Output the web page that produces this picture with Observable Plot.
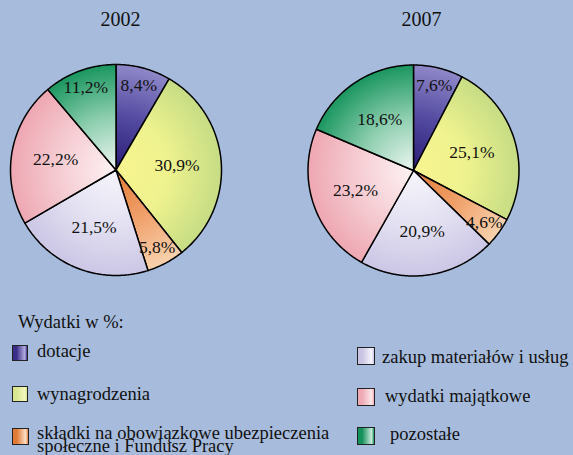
<!DOCTYPE html>
<html><head><meta charset="utf-8">
<script src="https://cdn.jsdelivr.net/npm/d3@7"></script>
<script src="https://cdn.jsdelivr.net/npm/@observablehq/plot@0.6"></script>
<style>
body{margin:0;background:#a7bcdc;width:573px;height:455px;overflow:hidden;position:relative;font-family:"Liberation Serif",serif;}
#chart{position:absolute;left:0;top:0}
.lg{position:absolute;font-size:18.5px;line-height:18px;color:#111;white-space:nowrap}
.sw{position:absolute;box-sizing:border-box;border:1px solid #222}
</style></head><body>
<div id="chart"></div>
<div id="legend"></div>
<script>
// ---- data ----
const categories = [
  "dotacje",
  "wynagrodzenia",
  "składki na obowiązkowe ubezpieczenia społeczne i Fundusz Pracy",
  "zakup materiałów i usług",
  "wydatki majątkowe",
  "pozostałe"
];
const legendLines = [
  ["dotacje"],
  ["wynagrodzenia"],
  ["składki na obowiązkowe ubezpieczenia", "społeczne i Fundusz Pracy"],
  ["zakup materiałów i usług"],
  ["wydatki majątkowe"],
  ["pozostałe"]
];
const years = ["2002", "2007"];
const values2002 = [8.4, 30.9, 5.8, 21.5, 22.2, 11.2];
const values2007 = [7.6, 25.1, 4.6, 20.9, 23.2, 18.6];
const legendTitle = "Wydatki w %:";

// ---- styles ----
const gradInner = ["#2a1c76", "#f8f590", "#e27c36", "#f6f5fb", "#fdf2f3", "#eef7f2"];
const gradMid   = ["#5249a0", "#eef28e", "#f0a06a", "#e4e2f2", "#f6cfd5", "#8fcfb0"];
const gradOuter = ["#8f88c8", "#c6dc84", "#f8d2ae", "#cbc6e5", "#eea7b2", "#1a9660"];
const swLeft  = ["#3a2d88", "#d8e690", "#e07a35", "#c9c4e4", "#eeaab4", "#14905a"];
const swRight = ["#b4aee0", "#f4f6c0", "#fbe0c8", "#f5f4fb", "#fbe6ea", "#c8eadb"];

// ---- layout ----
const W = 573, H = 300, R = 105.5;
const centers = [{x: 115.5 / R, y: 169.5 / R}, {x: 413 / R, y: 170 / R}];
const titleDx = [4.5 / R, 8 / R];
const titleBaseline = 25.5 / R;

const seriesByYear = [values2002, values2007];
const fmt = v => d3.format(".1f")(v).replace(".", ",") + "%";
const pie = d3.pie().sort(null).value(d => d.v);

const rows = [];
const labels = [];
seriesByYear.forEach((vals, i) => {
  const c = centers[i];
  pie(vals.map((v, j) => ({v, j}))).forEach(a => {
    const key = i + "-" + a.index;
    const fill = `url(#g${i}_${a.index})`;
    const n = Math.max(2, Math.ceil((a.endAngle - a.startAngle) / 0.01));
    rows.push({key, fill, x: c.x, y: c.y});
    for (let k = 0; k <= n; k++) {
      const ang = a.startAngle + (a.endAngle - a.startAngle) * k / n;
      rows.push({key, fill, x: c.x + Math.sin(ang), y: c.y - Math.cos(ang)});
    }
    rows.push({key, fill, x: c.x, y: c.y});
    const mid = (a.startAngle + a.endAngle) / 2;
    const r = a.data.v < 12 ? 0.83 : 0.58;
    labels.push({x: c.x + r * Math.sin(mid), y: c.y - r * Math.cos(mid), text: fmt(a.data.v)});
  });
});
const titles = years.map((t, i) => ({text: t, x: centers[i].x + titleDx[i], y: titleBaseline}));

const plot = Plot.plot({
  width: W, height: H,
  margin: 0,
  x: {domain: [0, W / R], range: [0, W], axis: null},
  y: {domain: [0, H / R], range: [0, H], axis: null},
  color: {type: "identity"},
  style: {background: "transparent", fontFamily: "Liberation Serif, serif"},
  marks: [
    Plot.line(rows, {x: "x", y: "y", z: "key", fill: "fill", stroke: "#000", strokeWidth: 1.5, strokeLinejoin: "round", curve: "linear"}),
    Plot.text(labels, {x: "x", y: "y", text: "text", fontSize: 17.5, fill: "#111"}),
    Plot.text(titles, {x: "x", y: "y", text: "text", fontSize: 20, fill: "#111", lineAnchor: "bottom"})
  ]
});

// gradients placed through the plot's own scales
const xs = plot.scale("x"), ys = plot.scale("y");
const defs = d3.select(plot).insert("defs", ":first-child");
centers.forEach((c, i) => {
  categories.forEach((cat, j) => {
    const g = defs.append("radialGradient").attr("id", `g${i}_${j}`)
      .attr("gradientUnits", "userSpaceOnUse")
      .attr("cx", xs.apply(c.x)).attr("cy", ys.apply(c.y))
      .attr("r", xs.apply(c.x + 1) - xs.apply(c.x));
    g.append("stop").attr("offset", 0).attr("stop-color", gradInner[j]);
    g.append("stop").attr("offset", 0.5).attr("stop-color", gradMid[j]);
    g.append("stop").attr("offset", 1).attr("stop-color", gradOuter[j]);
  });
});
document.getElementById("chart").appendChild(plot);

// ---- legend (HTML below the SVG) ----
const lg = document.getElementById("legend");
function addText(lines, left, baseline) {
  const d = document.createElement("div");
  d.className = "lg";
  if (lines.length > 1) {
    d.style.lineHeight = "13px";
    d.style.top = (baseline - 12.7) + "px";
  } else {
    d.style.top = (baseline - 15.2) + "px";
  }
  lines.forEach((t, k) => {
    if (k) d.appendChild(document.createElement("br"));
    d.appendChild(document.createTextNode(t));
  });
  d.style.left = left + "px";
  lg.appendChild(d);
}
addText([legendTitle], 18, 328);
const swPos = [
  {x: 12, y: 345, s: 16, tx: 37, tb: 357},
  {x: 12, y: 386, s: 16, tx: 37, tb: 400},
  {x: 12, y: 428, s: 17, tx: 37, tb: 440},
  {x: 357, y: 347, s: 18, tx: 382, tb: 363},
  {x: 357, y: 388, s: 18, tx: 385, tb: 402},
  {x: 357, y: 427, s: 18, tx: 390, tb: 440}
];
categories.forEach((cat, j) => {
  const p = swPos[j];
  const s = document.createElement("div");
  s.className = "sw";
  s.style.left = p.x + "px"; s.style.top = p.y + "px";
  s.style.width = p.s + "px"; s.style.height = p.s + "px";
  s.style.background = `linear-gradient(to right, ${swLeft[j]} 0%, ${swLeft[j]} 25%, ${swRight[j]} 85%, ${swLeft[j]} 100%)`;
  lg.appendChild(s);
  addText(legendLines[j], p.tx, p.tb);
});
</script>
</body></html>
